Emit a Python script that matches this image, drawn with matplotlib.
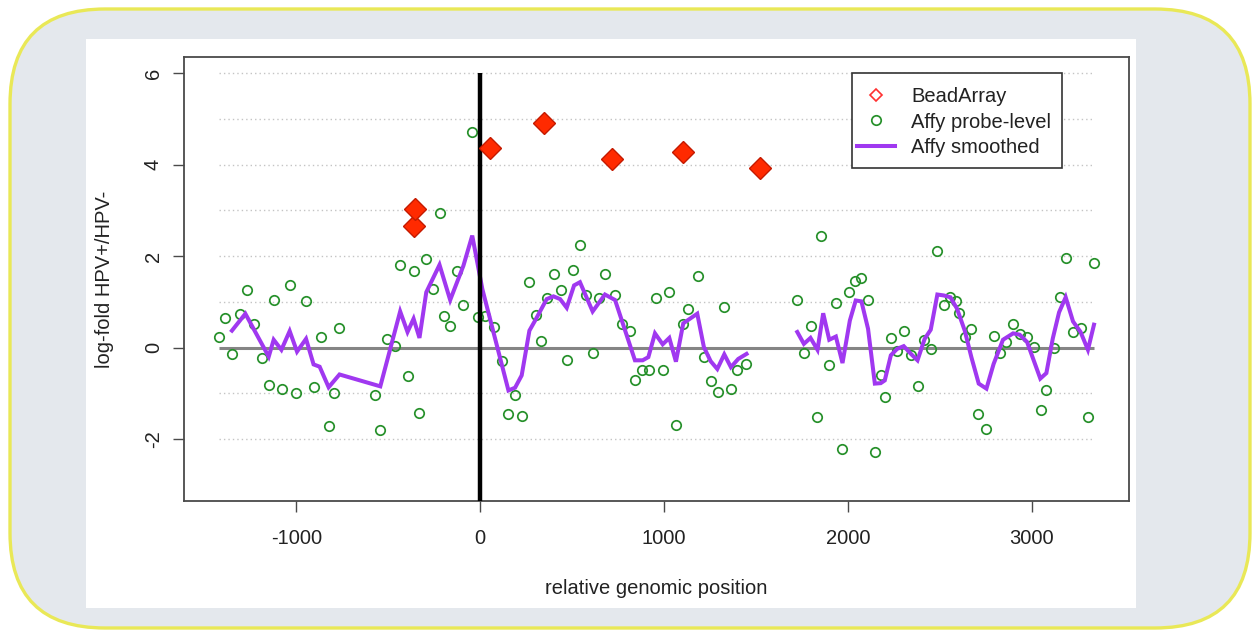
import matplotlib
matplotlib.use("Agg")
import matplotlib.pyplot as plt
from matplotlib.patches import FancyBboxPatch, Rectangle
from matplotlib.lines import Line2D
import numpy as np

plt.rcParams['font.family'] = ['Liberation Sans', 'DejaVu Sans']

# ---------------- data ----------------
probe_x = [-1422, -1386, -1350, -1304, -1268, -1228, -1187, -1150, -1123, -1078,
           -1033, -1000, -947, -906, -864, -822, -795, -765, -574, -542,
           -504, -462, -435, -395, -362, -330, -293, -254, -217, -196,
           -163, -127, -91, -43, -9, 27, 76, 118, 154, 190,
           226, 268, 304, 330, 362, 402, 438, 471, 507, 543,
           576, 612, 649, 681, 734, 770, 815, 844, 882, 920,
           957, 993, 1029, 1065, 1101, 1129, 1183, 1217, 1254, 1292,
           1328, 1362, 1398, 1446, 1725, 1761, 1797, 1833, 1855, 1899,
           1935, 1969, 2007, 2038, 2074, 2110, 2147, 2179, 2201, 2237,
           2270, 2306, 2346, 2382, 2415, 2451, 2487, 2522, 2554, 2587,
           2603, 2636, 2672, 2708, 2754, 2793, 2830, 2862, 2899, 2935,
           2975, 3013, 3049, 3080, 3120, 3152, 3188, 3225, 3266, 3306, 3339]
probe_y = [0.23, 0.65, -0.14, 0.74, 1.26, 0.52, -0.23, -0.83, 1.04, -0.91,
           1.36, -1.00, 1.01, -0.87, 0.23, -1.72, -0.99, 0.42, -1.04, -1.81,
           0.18, 0.04, 1.81, -0.63, 1.67, -1.43, 1.94, 1.28, 2.94, 0.68,
           0.47, 1.67, 0.93, 4.71, 0.66, 0.70, 0.44, -0.30, -1.45, -1.03,
           -1.50, 1.43, 0.72, 0.14, 1.09, 1.62, 1.26, -0.28, 1.70, 2.24,
           1.14, -0.12, 1.09, 1.62, 1.16, 0.52, 0.36, -0.72, -0.49, -0.50,
           1.08, -0.49, 1.22, -1.69, 0.52, 0.85, 1.56, -0.20, -0.74, -0.98,
           0.88, -0.90, -0.50, -0.36, 1.04, -0.12, 0.47, -1.52, 2.45, -0.39,
           0.98, -2.23, 1.21, 1.45, 1.52, 1.04, -2.29, -0.61, -1.09, 0.20,
           -0.07, 0.37, -0.17, -0.85, 0.17, -0.04, 2.12, 0.94, 1.10, 1.01,
           0.75, 0.24, 0.41, -1.45, -1.78, 0.26, -0.12, 0.12, 0.52, 0.30,
           0.24, 0.01, -1.36, -0.94, -0.01, 1.10, 1.96, 0.35, 0.43, -1.52, 1.84]

smooth1_x = [-1350, -1277, -1150, -1123, -1081, -1036, -996, -947, -906, -873,
             -824, -765, -543, -435, -395, -362, -330, -293, -221, -163,
             -91, -43, 12, 154, 190, 226, 268, 299, 362, 399,
             435, 471, 511, 543, 612, 679, 734, 842, 884, 915,
             951, 993, 1029, 1065, 1105, 1181, 1217, 1254, 1290, 1328,
             1364, 1404, 1449]
smooth1_y = [0.37, 0.74, -0.20, 0.17, -0.05, 0.36, -0.09, 0.19, -0.37, -0.42,
             -0.87, -0.59, -0.85, 0.79, 0.34, 0.63, 0.21, 1.21, 1.81, 1.04,
             1.79, 2.45, 1.28, -0.94, -0.88, -0.61, 0.37, 0.59, 1.06, 1.12,
             1.06, 0.87, 1.36, 1.43, 0.79, 1.16, 1.04, -0.28, -0.28, -0.21,
             0.31, 0.07, 0.21, -0.31, 0.53, 0.74, 0.01, -0.30, -0.47, -0.15,
             -0.43, -0.25, -0.14]

smooth2_x = [1725, 1761, 1797, 1835, 1866, 1899, 1935, 1971, 2011, 2043,
             2074, 2110, 2147, 2179, 2201, 2234, 2268, 2304, 2346, 2379,
             2418, 2451, 2487, 2522, 2558, 2594, 2636, 2672, 2712, 2754,
             2793, 2844, 2899, 2935, 2975, 3011, 3047, 3080, 3115, 3149,
             3185, 3225, 3266, 3306, 3339]
smooth2_y = [0.34, 0.08, 0.21, -0.05, 0.75, 0.17, 0.24, -0.34, 0.59, 1.03,
             1.01, 0.41, -0.79, -0.78, -0.72, -0.17, -0.03, 0.03, -0.15, -0.28,
             0.19, 0.39, 1.16, 1.14, 1.10, 0.85, 0.37, -0.21, -0.79, -0.90,
             -0.36, 0.17, 0.31, 0.28, 0.12, -0.28, -0.68, -0.56, 0.20, 0.77,
             1.10, 0.57, 0.34, -0.05, 0.50]

bead_x = [-362, -353, 54, 348, 716, 1105, 1522]
bead_y = [2.65, 3.03, 4.36, 4.91, 4.12, 4.28, 3.92]

marker_position = 0
marker_top = 6
x_ticks = [-1000, 0, 1000, 2000, 3000]
y_ticks = [-2, 0, 2, 4, 6]
grid_levels = [-2, -1, 1, 2, 3, 4, 5, 6]
y_range = (-3, 6)

legend_labels = ["BeadArray", "Affy probe-level", "Affy smoothed"]
x_label = "relative genomic position"
y_label = "log-fold HPV+/HPV-"

# ---------------- colours ----------------
GREEN = '#26902a'
PURPLE = '#a038f0'
RED = '#ff2a00'
RED_EDGE = '#c41a00'
AXCOL = '#4a4a4a'
TXT = '#222222'
FS = 14.5

W, H = 1254, 632
fig = plt.figure(figsize=(W / 100, H / 100), dpi=100)
fig.patch.set_facecolor('white')

# background frame in pixel coordinates
bg = fig.add_axes([0, 0, 1, 1])
bg.set_xlim(0, W)
bg.set_ylim(H, 0)
bg.axis('off')
frame = FancyBboxPatch((10, 9), 1240, 619, boxstyle="round,pad=0,rounding_size=95",
                       facecolor='#e4e8ed', edgecolor='#e9e857', linewidth=2.4)
bg.add_patch(frame)
bg.add_patch(Rectangle((86, 39), 1050, 569, facecolor='white', edgecolor='none'))

# main axes
left, right, top, bottom = 183.7, 1129, 57, 501
ax = fig.add_axes([left / W, 1 - bottom / H, (right - left) / W, (bottom - top) / H])
ax.set_facecolor('none')

span = y_range[1] - y_range[0]
ax.set_ylim(y_range[0] - 0.04 * span, y_range[1] + 0.04 * span)
xspan = max(probe_x) - min(probe_x)
ax.set_xlim(min(probe_x) - 0.04 * xspan, max(probe_x) + 0.04 * xspan)

# grid lines & zero line over probe span
ax.hlines(grid_levels, min(probe_x), max(probe_x), colors='#c4c4c4',
          linestyles=(0, (1, 2.2)), linewidth=1.0, zorder=1)
ax.hlines(0, min(probe_x), max(probe_x), colors='#858585', linewidth=2.2, zorder=2)

ax.plot(probe_x, probe_y, linestyle='none', marker='o', markersize=6.8,
        markerfacecolor='none', markeredgecolor=GREEN, markeredgewidth=1.25, zorder=3)
ax.plot(smooth1_x, smooth1_y, color=PURPLE, linewidth=2.9, zorder=4, solid_joinstyle='miter')
ax.plot(smooth2_x, smooth2_y, color=PURPLE, linewidth=2.9, zorder=4, solid_joinstyle='miter')

ax.vlines(marker_position, ax.get_ylim()[0], marker_top, colors='black', linewidth=3.2, zorder=5)

ax.plot(bead_x, bead_y, linestyle='none', marker='D', markersize=11.5,
        markerfacecolor=RED, markeredgecolor=RED_EDGE, markeredgewidth=1.0, zorder=6)

# axes styling
for s in ax.spines.values():
    s.set_color(AXCOL)
    s.set_linewidth(1.3)
ax.set_xticks(x_ticks)
ax.set_yticks(y_ticks)
ax.set_xticklabels([str(v) for v in x_ticks])
ax.set_yticklabels([str(v) for v in y_ticks])
ax.tick_params(axis='both', direction='out', length=8, width=1.0, color=AXCOL,
               labelsize=FS, labelcolor=TXT)
ax.tick_params(axis='x', pad=12)
ax.tick_params(axis='y', pad=7)
for lab in ax.get_yticklabels():
    lab.set_rotation(90)
    lab.set_va('center')

fig.text(656 / W, 1 - 588 / H, x_label, ha='center', va='center', fontsize=FS, color=TXT)
fig.text(104 / W, 1 - 279 / H, y_label, ha='center', va='center', rotation=90,
         fontsize=FS, color=TXT)

# legend: frame drawn as a box, entries via ax.legend without frame
def px_to_axes(px, py):
    return (px - left) / (right - left), (bottom - py) / (bottom - top)

bx0, by0 = px_to_axes(851.7, 168.3)
bx1, by1 = px_to_axes(1061.7, 73.3)
ax.add_patch(Rectangle((bx0, by0), bx1 - bx0, by1 - by0, transform=ax.transAxes,
                       facecolor='white', edgecolor='#333333', linewidth=1.2, zorder=7))

handles = [
    Line2D([], [], linestyle='none', marker='D', markersize=6.5, markerfacecolor='none',
           markeredgecolor='#ff3030', markeredgewidth=1.2),
    Line2D([], [], linestyle='none', marker='o', markersize=6.8, markerfacecolor='none',
           markeredgecolor=GREEN, markeredgewidth=1.25),
    Line2D([], [], color=PURPLE, linewidth=2.9),
]
leg = ax.legend(handles, legend_labels, loc='upper left',
                bbox_to_anchor=px_to_axes(856.7, 87.5),
                borderaxespad=0, fontsize=FS, frameon=False, borderpad=0,
                labelspacing=0.30, handlelength=1.9, handletextpad=0.8)
leg.set_zorder(8)
for t in leg.get_texts():
    t.set_color(TXT)

fig.savefig('out.png', dpi=100)
